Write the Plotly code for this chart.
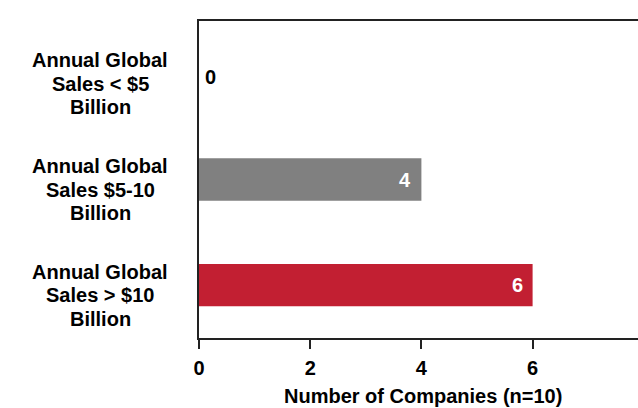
import plotly.graph_objects as go

# Company counts by annual global sales band
categories = [
    "Annual Global<br>Sales < $5<br>Billion",
    "Annual Global<br>Sales $5-10<br>Billion",
    "Annual Global<br>Sales > $10<br>Billion",
]
values = [0, 4, 6]
bar_colors = ["#808080", "#808080", "#C21F32"]
x_ticks = [0, 2, 4, 6]
x_title = "Number of Companies (n=10)"

FONT = "Liberation Sans, Arial, sans-serif"
AXIS_COLOR = "#222222"

fig = go.Figure(
    go.Bar(
        x=values,
        y=categories,
        orientation="h",
        width=0.4,
        marker=dict(color=bar_colors, line=dict(width=0)),
        hoverinfo="skip",
    )
)

annotations = []

# Value labels: inside the bar end when non-zero, just past the axis when zero
for cat, v in zip(categories, values):
    if v > 0:
        annotations.append(dict(
            x=v, y=cat, xref="x", yref="y", text=f"<b>{v}</b>",
            showarrow=False, xanchor="right", xshift=-8, yshift=0,
            font=dict(family=FONT, size=20, color="white"),
        ))
    else:
        annotations.append(dict(
            x=v, y=cat, xref="x", yref="y", text=f"<b>{v}</b>",
            showarrow=False, xanchor="left", xshift=4, yshift=-3,
            font=dict(family=FONT, size=20, color="black"),
        ))

# Centered, multi-line category labels (one annotation per line for tight spacing)
plot_left = 199
plot_w = 439
label_cx = (100 - plot_left) / plot_w
line_gap = 23.5
for cat in categories:
    lines = cat.split("<br>")
    n = len(lines)
    for i, line in enumerate(lines):
        offset = (i - (n - 1) / 2) * line_gap
        annotations.append(dict(
            x=label_cx, y=cat, xref="paper", yref="y", text=f"<b>{line}</b>",
            showarrow=False, xanchor="center", yanchor="middle",
            yshift=-10 - offset,
            font=dict(family=FONT, size=20, color="black"),
        ))

# X-axis title
annotations.append(dict(
    x=(423 - plot_left) / plot_w, y=-0.182, xref="paper", yref="paper",
    text=f"<b>{x_title}</b>", showarrow=False, xanchor="center", yanchor="middle",
    font=dict(family=FONT, size=20, color="black"),
))

fig.update_layout(
    width=638,
    height=408,
    margin=dict(l=plot_left, r=0, t=21, b=70, pad=0),
    plot_bgcolor="white",
    paper_bgcolor="white",
    showlegend=False,
    bargap=0.6,
    annotations=annotations,
    xaxis=dict(
        range=[0, plot_w / 55.6],
        tickvals=x_ticks,
        ticktext=[f"<b>{t}</b>" for t in x_ticks],
        ticks="outside",
        ticklen=9,
        tickwidth=2,
        tickcolor=AXIS_COLOR,
        ticklabelstandoff=2,
        showline=True,
        linewidth=2,
        linecolor=AXIS_COLOR,
        mirror=True,
        showgrid=False,
        zeroline=False,
        tickfont=dict(family=FONT, size=20, color="black"),
        fixedrange=True,
    ),
    yaxis=dict(
        categoryorder="array",
        categoryarray=categories,
        autorange="reversed",
        showticklabels=False,
        ticks="",
        showline=True,
        linewidth=2,
        linecolor=AXIS_COLOR,
        showgrid=False,
        zeroline=False,
        fixedrange=True,
    ),
)

fig.write_html("out.html")
